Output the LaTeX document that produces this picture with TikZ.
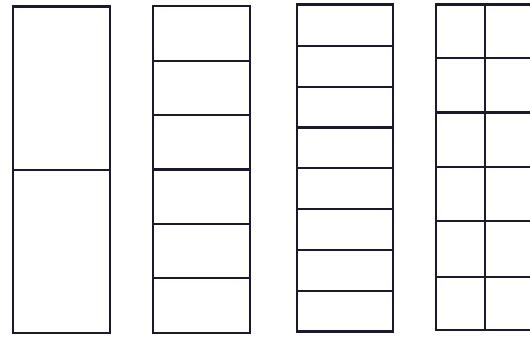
\documentclass[tikz,border=0pt]{standalone}
\definecolor{ink}{HTML}{1B1A2C}
\begin{document}
\begin{tikzpicture}[x=1pt,y=-1pt,
  frame/.style={draw=ink,line width=2.8pt},
  divider/.style={draw=ink,line width=2.5pt}]
\useasboundingbox (0,0) rectangle (530,339);
\clip (0,0) rectangle (530,339);
% box 1: halves
\draw[frame] (13,6.5) rectangle (110,333);
\draw[divider] (13,170) -- (110,170);
% box 2: sixths
\draw[frame] (153,6) rectangle (250,333);
\foreach \yy in {61,115,169.5,224,278}
  \draw[divider] (153,\yy) -- (250,\yy);
% box 3: eighths
\draw[frame] (297,4.5) rectangle (393,331.5);
\foreach \yy in {46,87,127.5,168,209,250,291}
  \draw[divider] (297,\yy) -- (393,\yy);
% box 4: twelfths (clipped at right)
\draw[frame] (436,4.5) rectangle (545,330);
\draw[divider] (485,4.5) -- (485,330);
\foreach \yy in {58,112.5,167,221,277}
  \draw[divider] (436,\yy) -- (545,\yy);
\end{tikzpicture}
\end{document}
